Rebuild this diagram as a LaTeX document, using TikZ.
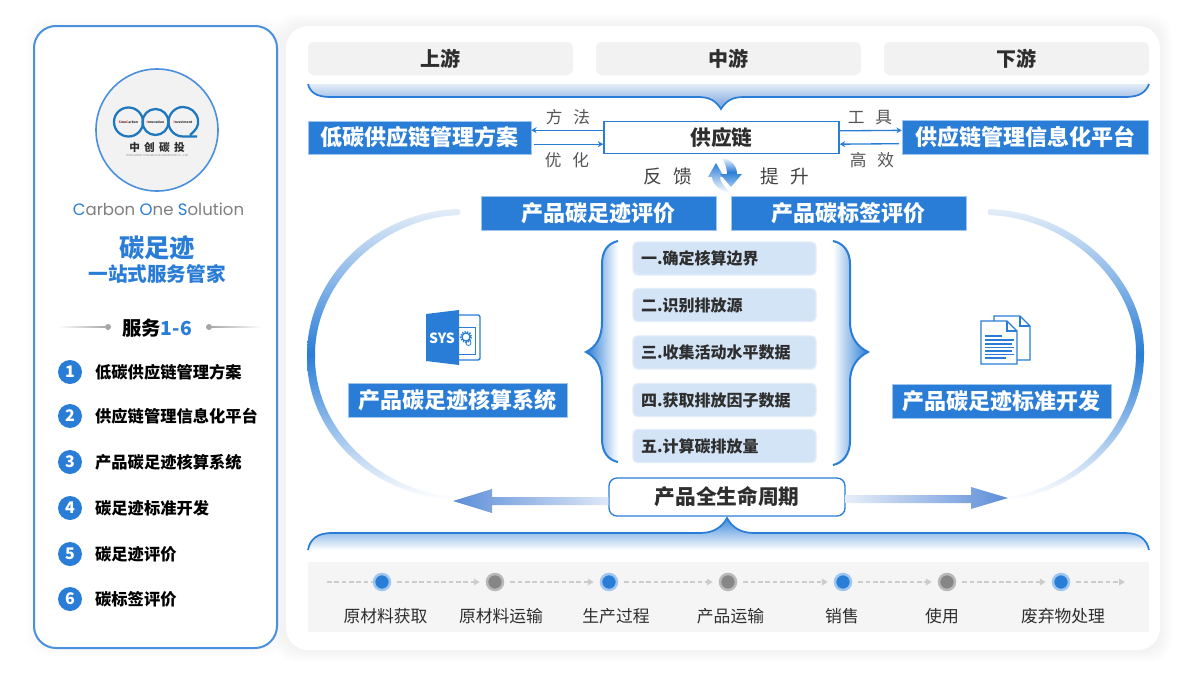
\documentclass[tikz,border=0pt]{standalone}
\usepackage{fontspec}
\setmainfont{Noto Sans CJK SC}
\newfontfamily\logofont{Poppins}
\usetikzlibrary{arrows.meta,positioning}
\definecolor{cblue}{HTML}{2A7DD6}
\definecolor{edgeblue}{HTML}{4A90DC}
\definecolor{ringblue}{HTML}{1F78BE}
\definecolor{halo}{HTML}{9FC6EF}
\definecolor{stepfill}{HTML}{D3E4F7}
\definecolor{stepline}{HTML}{E2EDFA}
\definecolor{headfill}{HTML}{F2F2F2}
\definecolor{stripfill}{HTML}{F5F5F5}
\definecolor{ink}{HTML}{2E2E2E}
\definecolor{note}{HTML}{555555}
\definecolor{arrowblue}{HTML}{5C8DD8}
\definecolor{paleblue}{HTML}{E3EDF8}
% one unit of the picture is .75pt
\newcommand\pxu{.75pt}
\newcommand\fs[1]{\fontsize{#1}{#1}\selectfont}
\tikzset{
  bar/.style={fill=cblue,draw=halo,line width=.4pt,text=white,inner sep=0pt,
    font=\bfseries\fs{16.5},minimum height=34*\pxu},
  headbox/.style={fill=headfill,rounded corners=4pt,text=ink,inner sep=0pt,
    font=\bfseries\fs{15},minimum width=265*\pxu,minimum height=33*\pxu},
  stepbox/.style={fill=stepfill,draw=stepline,line width=1pt,rounded corners=3.5pt,text=ink,
    font=\bfseries\fs{12},inner xsep=8*\pxu,inner ysep=0pt,text width=167*\pxu,
    align=left,minimum height=33*\pxu},
  numdot/.style={circle,fill=cblue,text=white,inner sep=0pt,minimum size=24*\pxu,
    font=\bfseries\fs{12}},
  service/.style={text=black,inner sep=0pt,font=\bfseries\fs{12.2}},
  note/.style={text=note,inner sep=0pt,font=\fs{12.5}},
  link/.style={cblue,line width=1pt,-{Stealth[length=4pt,width=4.5pt]}},
  bluedot/.style={circle,fill=cblue,draw=halo,line width=2.5*\pxu,inner sep=0pt,minimum size=16*\pxu},
  greydot/.style={circle,fill=gray!95,draw=gray!55,line width=2.5*\pxu,inner sep=0pt,minimum size=16*\pxu},
  flow/.style={gray!40,line width=1.2pt,dash pattern=on 3.5pt off 2pt},
  flowtip/.style={flow,shorten <=4.5pt,shorten >=4.5pt,-{Triangle[length=4.5pt,width=5pt]}},
  stage/.style={text=ink,inner sep=0pt,font=\fs{12.6}},
}
\begin{document}
\begin{tikzpicture}[x=.75pt,y=-.75pt]
  \useasboundingbox (0,0) rectangle (1200,675);
  \fill[white] (0,0) rectangle (1200,675);
  % soft edge round the panels
  \foreach \g in {12,10,8,6,4,2}
    \fill[black,opacity=.007,rounded corners=22*\pxu] (286-\g,26-\g) rectangle (1160+\g,650+\g);
  \foreach \g in {8,5,2}
    \fill[black,opacity=.006,rounded corners=22*\pxu] (34-\g,26-\g) rectangle (277+\g,648+\g);
  \fill[white,rounded corners=22*\pxu] (286,26) rectangle (1160,650);
  \draw[edgeblue,line width=1.5pt,fill=white,rounded corners=22*\pxu] (34,26) rectangle (277,648);

  % left panel, logo
  \node[circle,fill=headfill,draw=edgeblue,line width=1.2pt,inner sep=0pt,minimum size=122*\pxu] (logo) at (157,130) {};
  \draw[ringblue,line width=1.7pt] (128.5,122) circle (14.5);
  \draw[ringblue,line width=1.7pt] (155.5,122) circle (13);
  \draw[ringblue,line width=1.7pt] (190,135) .. controls (196,130) and (199,126) .. (198,120)
    .. controls (197,112) and (190,107) .. (183,107) .. controls (175,107) and (168.5,114) .. (168.5,122)
    .. controls (168.5,130) and (175,136.5) .. (183,136.5) -- (197,136.5);
  \node[inner sep=0pt,text=ink,font=\bfseries\fs{2.4}] (sino) at (128.5,122) {\textcolor{red}{S}ino\textcolor{red}{C}arbon};
  \node[inner sep=0pt,text=ink,font=\bfseries\fs{2.4}] (innov) at (155.5,122) {\textcolor{red}{I}nnovation};
  \node[inner sep=0pt,text=ink,font=\bfseries\fs{2.4}] (invest) at (183,122) {\textcolor{red}{I}nvestment};
  \node[inner sep=0pt,text=ink,font=\bfseries\fs{8}] (brand) at (157,147) {中\hspace{.4em}创\hspace{.4em}碳\hspace{.4em}投};
  \node[inner sep=0pt,text=gray,font=\fs{2.2}] (brandsub) at (157,156) {SinoCarbon Innovation \& Investment Co.,\ Ltd};
  \node[inner sep=0pt,text=gray,font=\logofont\fs{12.4}] (slogan) at (158.5,209)
    {\textcolor{cblue}{C}arbon \textcolor{cblue}{O}ne \textcolor{cblue}{S}olution};
  \node[inner sep=0pt,text=cblue,font=\bfseries\fs{19}] (title) at (157,248) {碳足迹};
  \node[inner sep=0pt,text=cblue,font=\bfseries\fs{14.7}] (subtitle) at (157,274) {一站式服务管家};

  % services list
  \node[inner sep=0pt,text=black,font=\bfseries\fs{14.5}] (services) at (157,328) {服务\textcolor{cblue}{1-6}};
  \node[circle,fill=gray!70,inner sep=0pt,minimum size=6*\pxu] (dotl) at (108,327) {};
  \node[circle,fill=gray!70,inner sep=0pt,minimum size=6*\pxu] (dotr) at (209,327) {};
  \shade[left color=white,right color=gray!70] (58,326.4) rectangle (108,327.6);
  \shade[left color=gray!70,right color=white] (209,326.4) rectangle (262,327.6);
  \foreach \i/\y/\t in {1/372/低碳供应链管理方案,2/416/供应链管理信息化平台,3/462/产品碳足迹核算系统,
      4/508/碳足迹标准开发,5/554/碳足迹评价,6/599/碳标签评价} {
    \node[numdot] (num\i) at (70,\y) {\i};
    \node[service,right=9.5pt of num\i] (item\i) {\t};
  }

  % top row
  \node[headbox] (up) at (440.5,58.5) {上游};
  \node[headbox] (mid) at (728.5,58.5) {中游};
  \node[headbox] (down) at (1016.5,58.5) {下游};

  % upper brace
  \shade[top color=paleblue,bottom color=arrowblue!85] (308,84) .. controls (310,92) and (316,97) .. (330,97)
    -- (698,97) .. controls (710,97) and (716,101) .. (721,109) .. controls (726,101) and (732,97) .. (744,97)
    -- (1125,97) .. controls (1140,97) and (1146,92) .. (1149,84) -- cycle;
  \draw[cblue,line width=1.3pt] (308,84) .. controls (310,92) and (316,97) .. (330,97)
    -- (698,97) .. controls (710,97) and (716,101) .. (721,109) .. controls (726,101) and (732,97) .. (744,97)
    -- (1125,97) .. controls (1140,97) and (1146,92) .. (1149,84);

  % supply chain row
  \node[bar,minimum width=223*\pxu,minimum height=33*\pxu] (plan) at (419.5,137.5) {低碳供应链管理方案};
  \node[draw=cblue,fill=white,line width=1.2pt,text=ink,inner sep=0pt,font=\bfseries\fs{15.5},
    minimum width=235*\pxu,minimum height=32*\pxu] (chain) at (721.5,137.5) {供应链};
  \node[bar,minimum width=246*\pxu] (platform) at (1025,137) {供应链管理信息化平台};
  \draw[link] ([yshift=5.5pt]chain.west) -- ([yshift=5.5pt]plan.east);
  \draw[link,shorten <=2pt] ([yshift=-5pt]plan.east) -- ([yshift=-5pt]chain.west);
  \draw[link] ([yshift=5pt]chain.east) -- ([yshift=5pt]platform.west);
  \draw[link,shorten <=2pt] ([yshift=-5pt]platform.west) -- ([yshift=-5pt]chain.east);
  \node[note] (method) at (568,117) {方\hspace{.65em}法};
  \node[note] (optimize) at (567,160) {优\hspace{.65em}化};
  \node[note] (tool) at (870,118) {工\hspace{.65em}具};
  \node[note] (effect) at (872,160) {高\hspace{.65em}效};
  \node[inner sep=0pt,text=ink!90,font=\fs{14}] (feedback) at (668,176) {反\hspace{.6em}馈};
  \node[inner sep=0pt,text=ink!90,font=\fs{14}] (lift) at (785,176) {提\hspace{.6em}升};

  % turning arrows
  \shade[top color=cblue,bottom color=white] (716,163) -- (708,177) -- (712,177)
    .. controls (713,186) and (722,192) .. (731,193) .. controls (724,187) and (720,182) .. (720,177)
    -- (724,177) -- cycle;
  \shade[top color=white,bottom color=halo,middle color=cblue] (721,157) .. controls (731,159) and (737,166) .. (737,174)
    -- (742,174) -- (731,187) -- (720,174) -- (727,174) .. controls (727,168) and (725,162) .. (721,157) -- cycle;

  % the two evaluations
  \node[bar,minimum width=235*\pxu] (footprint) at (598.5,213) {产品碳足迹评价};
  \node[bar,minimum width=235*\pxu] (carbonlabel) at (848.5,213) {产品碳标签评价};

  % big side arcs
  \shade[top color=paleblue,bottom color=white,middle color=cblue,rounded corners=1pt]
    (460,209) .. controls (376,211) and (307,277) .. (307,356) .. controls (307,436) and (375,496) .. (456,500)
    -- (456,497) .. controls (380,491) and (315,430) .. (315,356) .. controls (315,282) and (382,218) .. (460,215) -- cycle;
  \shade[top color=paleblue,bottom color=white,middle color=cblue,rounded corners=1pt]
    (988,209) .. controls (1072,212) and (1144,277) .. (1144,353) .. controls (1144,432) and (1078,494) .. (1004,500)
    -- (1004,497) .. controls (1074,490) and (1136,428) .. (1136,353) .. controls (1136,282) and (1068,218) .. (988,215) -- cycle;

  % system icon
  \draw[cblue,line width=1pt,rounded corners=1.5pt] (459,315) -- (480,315) -- (480,360) -- (459,360);
  \draw[cblue,line width=.7pt] (459,327) -- (475,327) -- (475,354) -- (459,354);
  \fill[cblue] (426,314) -- (459,310) -- (459,365) -- (426,361) -- cycle;
  \node[inner sep=0pt,text=white,font=\bfseries\fs{10.5}] (sys) at (442,338) {SYS};
  \draw[cblue,line width=1.8pt,dash pattern=on .9pt off .9pt] (466,337) circle (5);
  \draw[cblue,line width=.9pt] (466,337) circle (4);
  \draw[cblue,line width=.6pt] (468.5,343) circle (2.5);
  \node[bar,minimum width=219*\pxu] (system) at (457.5,400) {产品碳足迹核算系统};

  % document icon
  \draw[cblue,line width=1pt,fill=white] (994,321) -- (994,316) -- (1020,316) -- (1030,326) -- (1030,360) -- (1017,360);
  \draw[cblue,line width=1pt] (1020,316) -- (1020,326) -- (1030,326);
  \draw[cblue,line width=1pt,fill=white] (981,321) -- (1007,321) -- (1017,331) -- (1017,364) -- (981,364) -- cycle;
  \draw[cblue,line width=1pt] (1007,321) -- (1007,331) -- (1017,331);
  \foreach \y/\e in {336/1002,340/1014,344/1012,347.5/1014,351/1012,354.5/1014,358/1006}
    \draw[cblue,line width=.9pt] (985,\y) -- (\e,\y);
  \node[bar,minimum width=219*\pxu] (standard) at (1001.5,401) {产品碳足迹标准开发};

  % five steps and their braces
  \node[stepbox] (step1) at (724.5,258.5) {一.确定核算边界};
  \node[stepbox] (step2) at (724.5,305) {二.识别排放源};
  \node[stepbox] (step3) at (724.5,352.5) {三.收集活动水平数据};
  \node[stepbox] (step4) at (724.5,400) {四.获取排放因子数据};
  \node[stepbox] (step5) at (724.5,446) {五.计算碳排放量};
  \shade[left color=cblue,right color=white] (618,241) .. controls (608,243) and (602,251) .. (602,264)
    -- (602,322) .. controls (602,338) and (596,347) .. (586,352) .. controls (596,357) and (602,366) .. (602,382)
    -- (602,439) .. controls (602,452) and (608,460) .. (618,462) -- cycle;
  \draw[cblue,line width=1.5pt] (618,241) .. controls (608,243) and (602,251) .. (602,264)
    -- (602,322) .. controls (602,338) and (596,347) .. (586,352) .. controls (596,357) and (602,366) .. (602,382)
    -- (602,439) .. controls (602,452) and (608,460) .. (618,462);
  \shade[left color=white,right color=cblue] (833,241) .. controls (843,243) and (850,251) .. (850,264)
    -- (850,322) .. controls (850,338) and (858,347) .. (868,352) .. controls (858,357) and (850,366) .. (850,382)
    -- (850,441) .. controls (850,454) and (843,463) .. (833,465) -- cycle;
  \draw[cblue,line width=1.5pt] (833,241) .. controls (843,243) and (850,251) .. (850,264)
    -- (850,322) .. controls (850,338) and (858,347) .. (868,352) .. controls (858,357) and (850,366) .. (850,382)
    -- (850,441) .. controls (850,454) and (843,463) .. (833,465);

  % life cycle and its wide arrows
  \node[draw=cblue,fill=white,line width=1pt,rounded corners=6pt,text=ink,inner sep=0pt,font=\bfseries\fs{15.5},
    minimum width=236*\pxu,minimum height=38*\pxu] (life) at (727,497) {产品全生命周期};
  \coordinate (lefttip) at (453,501);
  \coordinate (righttip) at (1008,498);
  \shade[left color=arrowblue,right color=arrowblue!20] (life.west) -- (492,497) -- (492,489) -- (lefttip)
    -- (492,513) -- (492,505) -- ([yshift=-6pt]life.west) -- cycle;
  \shade[left color=arrowblue!15,right color=arrowblue] ([yshift=1.5pt]life.east) -- (971,495) -- (971,487) -- (righttip)
    -- (971,509) -- (971,503) -- ([yshift=-4.5pt]life.east) -- cycle;

  % lower brace
  \shade[top color=cblue!90,bottom color=white] (308,550) .. controls (310,540) and (316,533) .. (332,533)
    -- (700,533) .. controls (714,533) and (722,527) .. (727,518) .. controls (732,527) and (740,533) .. (754,533)
    -- (1125,533) .. controls (1140,533) and (1147,540) .. (1149,550) -- cycle;
  \draw[cblue,line width=1.3pt] (308,550) .. controls (310,540) and (316,533) .. (332,533)
    -- (700,533) .. controls (714,533) and (722,527) .. (727,518) .. controls (732,527) and (740,533) .. (754,533)
    -- (1125,533) .. controls (1140,533) and (1147,540) .. (1149,550);

  % life cycle strip
  \fill[stripfill] (308,562) rectangle (1149,632);
  \coordinate (flowstart) at (327,582);
  \coordinate (flowend) at (1131,582);
  \foreach \i/\x/\lx/\k/\t in {1/382/385.5/bluedot/原材料获取,2/495/501/greydot/原材料运输,3/609/616/bluedot/生产过程,
      4/728/730.5/greydot/产品运输,5/843/842/bluedot/销售,6/947/942/greydot/使用,7/1061/1063/bluedot/废弃物处理} {
    \node[\k] (dot\i) at (\x,582) {};
    \node[stage] (stage\i) at (\lx,616) {\t};
  }
  \draw[flow] (flowstart) -- (dot1);
  \foreach \a/\b in {1/2,2/3,3/4,4/5,5/6,6/7}
    \draw[flowtip] (dot\a) -- (dot\b);
  \draw[flowtip] (dot7) -- (flowend);
\end{tikzpicture}
\end{document}
